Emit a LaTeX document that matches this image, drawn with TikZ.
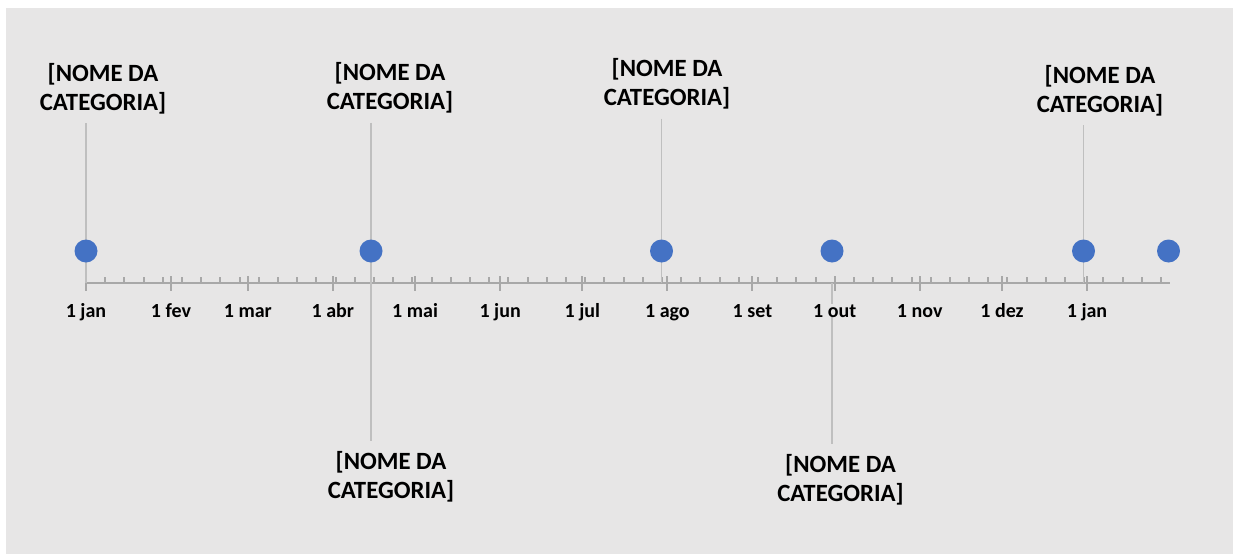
\documentclass[tikz,border=0pt]{standalone}
\usepackage{fontspec}
\setmainfont{Carlito}
\definecolor{sfondo}{HTML}{E7E6E6}
\definecolor{grigioasse}{HTML}{A8A8A8}
\definecolor{grigioguida}{HTML}{BFBFBF}
\definecolor{blupunto}{HTML}{4472C4}

\begin{document}
\begin{tikzpicture}[x=1pt, y=-1pt]
        % Stili
        \tikzstyle{punto} = [circle, fill=blupunto, minimum size=23pt, inner sep=0pt]
        \tikzstyle{categoria} = [align=center, font={\fontsize{24.8}{29}\selectfont\bfseries}, inner sep=0pt]
        \tikzstyle{mese} = [font={\fontsize{20}{23}\selectfont\bfseries}, inner sep=0pt, anchor=base, fill=sfondo]
        \tikzstyle{guida} = [draw=grigioguida, line width=1.5pt]
        \tikzstyle{asse} = [draw=grigioasse, line width=2.5pt]
        \tikzstyle{tacca} = [draw=grigioasse, line width=2pt]

        % --- Sfondo ---
        \fill[white] (0,0) rectangle (1233,554);
        \useasboundingbox (0,0) rectangle (1233,554);
        \fill[sfondo] (6,8) rectangle (1233,554);

        % --- Asse dei tempi ---
        \coordinate (asse) at (86,283);
        \coordinate (fine_asse) at (1170,283);
        \draw[asse] (asse) -- (fine_asse);

        % Tacche settimanali
        \foreach \g in {0,7,...,392}
            \draw[tacca] ({86+2.7425*\g},277) -- ++(0,6);

        % Tacche mensili
        \foreach \g in {0,31,59,90,120,151,181,212,243,273,304,334,365}
            \draw[tacca] ({86+2.7425*\g},276) -- ++(0,14.5);

        % --- Posizioni dei punti ---
        \coordinate (pt1) at (86,251);
        \coordinate (pt2) at (371,251);
        \coordinate (pt3) at (661.5,251);
        \coordinate (pt4) at (832,251);
        \coordinate (pt5) at (1083.5,251);
        \coordinate (pt6) at (1168.5,251);

        % --- Etichette delle categorie ---
        \node [categoria] (cat1) at (103,88.5) {[NOME DA\\CATEGORIA]};
        \node [categoria] (cat2) at (390,88) {[NOME DA\\CATEGORIA]};
        \node [categoria] (cat3) at (667,84) {[NOME DA\\CATEGORIA]};
        \node [categoria] (cat4) at (1100,90.5) {[NOME DA\\CATEGORIA]};
        \node [categoria] (cat5) at (391,477) {[NOME DA\\CATEGORIA]};
        \node [categoria] (cat6) at (840.5,480) {[NOME DA\\CATEGORIA]};

        % --- Linee guida ---
        \draw [guida, shorten <=9pt] (cat1.south -| pt1) -- (pt1 |- asse);
        \draw [guida, shorten <=9pt, shorten >=10pt] (cat2.south -| pt2) -- (cat5.north -| pt2);
        \draw [guida, shorten <=9pt] (cat3.south -| pt3) -- (pt3 |- asse);
        \draw [guida, shorten >=10pt] (pt4 |- asse) -- (cat6.north -| pt4);
        \draw [guida, shorten <=9pt] (cat4.south -| pt5) -- (pt5 |- asse);

        % --- Etichette dei mesi ---
        \foreach \g/\m in {0/jan,31/fev,59/mar,90/abr,120/mai,151/jun,181/jul,212/ago,243/set,273/out,304/nov,334/dez,365/jan}
            \node [mese] (mese\g) at ({86+2.7425*\g},317) {1 \m};

        % --- Punti ---
        \foreach \i in {1,...,6}
            \node [punto] (punto\i) at (pt\i) {};

\end{tikzpicture}
\end{document}
